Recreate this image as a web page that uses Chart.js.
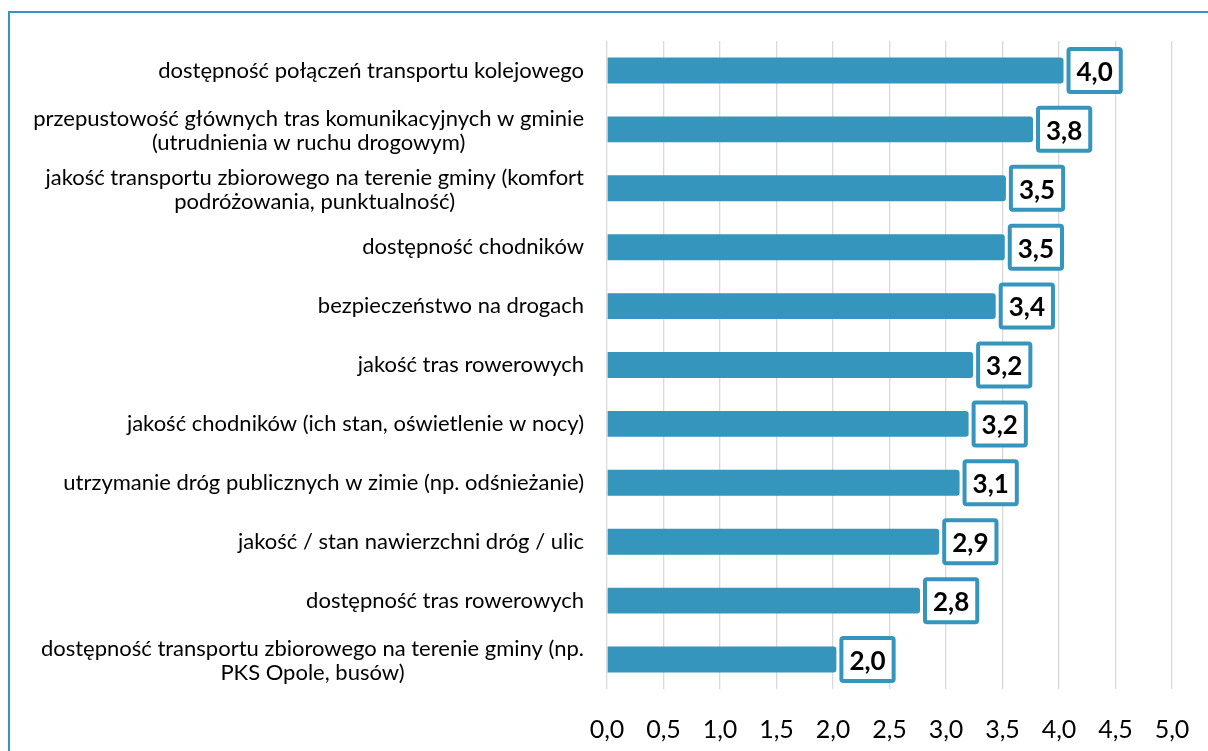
<!DOCTYPE html>
<html>
<head>
<meta charset="utf-8">
<script src="https://cdn.jsdelivr.net/npm/chart.js@4/dist/chart.umd.min.js"></script>
<style>
    body { margin: 0; background: #fff; overflow: hidden; }
    #ramka {
        position: absolute; left: 8px; top: 11px;
        width: 1400px; height: 1000px;
        border: 2px solid #3595bc;
    }
    #wykres { position: absolute; left: 0; top: 0; }
</style>
</head>
<body>
<div id="ramka"></div>
<canvas id="wykres" width="1208" height="751"></canvas>
<script>
// Dane z wykresu (ocena 1-5)
const kategorie = [
    ['dostępność połączeń transportu kolejowego'],
    ['przepustowość głównych tras komunikacyjnych w gminie', '(utrudnienia w ruchu drogowym)'],
    ['jakość transportu zbiorowego na terenie gminy (komfort', 'podróżowania, punktualność)'],
    ['dostępność chodników'],
    ['bezpieczeństwo na drogach'],
    ['jakość tras rowerowych'],
    ['jakość chodników (ich stan, oświetlenie w nocy)'],
    ['utrzymanie dróg publicznych w zimie (np. odśnieżanie)'],
    ['jakość / stan nawierzchni dróg / ulic'],
    ['dostępność tras rowerowych'],
    ['dostępność transportu zbiorowego na terenie gminy (np.', 'PKS Opole, busów)']
];
const oceny = [4.04, 3.77, 3.53, 3.52, 3.44, 3.24, 3.2, 3.12, 2.94, 2.77, 2.03];
const osX = { min: 0, max: 5, krok: 0.5 };

const NIEBIESKI = '#3595bc';
const CZCIONKA = 'Lato, sans-serif';

const formatuj = v => v.toFixed(1).replace('.', ',');

// Etykiety kategorii: blok wyrównany do prawej, linie wyśrodkowane
const etykietyKategorii = {
    id: 'etykietyKategorii',
    afterDraw(chart) {
        const ctx = chart.ctx;
        const y = chart.scales.y;
        const prawo = chart.chartArea.left - 23;
        const wysLinii = 24;
        ctx.save();
        ctx.font = '22px ' + CZCIONKA;
        ctx.fillStyle = '#000';
        ctx.textAlign = 'center';
        ctx.textBaseline = 'middle';
        kategorie.forEach((linie, i) => {
            const szer = Math.max(...linie.map(l => ctx.measureText(l).width));
            const srodekX = prawo - szer / 2;
            const srodekY = y.getPixelForTick(i) + (linie.length > 1 ? 1.5 : 0);
            linie.forEach((l, j) => {
                ctx.fillText(l, srodekX, srodekY + (j - (linie.length - 1) / 2) * wysLinii);
            });
        });
        ctx.restore();
    }
};

// Etykiety wartości w ramkach
const etykietyWartosci = {
    id: 'etykietyWartosci',
    afterDatasetsDraw(chart) {
        const ctx = chart.ctx;
        const meta = chart.getDatasetMeta(0);
        ctx.save();
        ctx.font = 'bold 26px ' + CZCIONKA;
        meta.data.forEach((bar, i) => {
            const tekst = formatuj(oceny[i]);
            const szer = ctx.measureText(tekst).width + 20;
            const wys = 47;
            const x0 = bar.x + 3;
            const y0 = bar.y - wys / 2;
            ctx.beginPath();
            ctx.roundRect(x0 + 2, y0 + 2, szer - 4, wys - 4, 2);
            ctx.fillStyle = '#fff';
            ctx.fill();
            ctx.lineWidth = 4;
            ctx.strokeStyle = NIEBIESKI;
            ctx.stroke();
            ctx.fillStyle = '#000';
            ctx.textAlign = 'center';
            ctx.textBaseline = 'middle';
            ctx.fillText(tekst, x0 + szer / 2, bar.y + 2);
        });
        ctx.restore();
    }
};

new Chart(document.getElementById('wykres'), {
    type: 'bar',
    data: {
        labels: kategorie,
        datasets: [{
            data: oceny,
            backgroundColor: NIEBIESKI,
            borderRadius: 3,
            borderSkipped: 'start',
            categoryPercentage: 1,
            barPercentage: 0.44
        }]
    },
    options: {
        indexAxis: 'y',
        responsive: false,
        animation: false,
        devicePixelRatio: 1,
        layout: {
            autoPadding: false,
            padding: { left: 599, right: 36, top: 41, bottom: 0 }
        },
        plugins: {
            legend: { display: false },
            tooltip: { enabled: false }
        },
        scales: {
            x: {
                min: osX.min,
                max: osX.max,
                grid: { color: '#d9d9d9', lineWidth: 1.3, drawTicks: false },
                border: { display: false },
                afterFit: skala => {
                    skala.height = 62;
                    skala.paddingLeft = 0;
                    skala.paddingRight = 0;
                },
                ticks: {
                    stepSize: osX.krok,
                    padding: 26,
                    color: '#000',
                    font: { family: CZCIONKA, size: 25 },
                    callback: v => formatuj(v)
                }
            },
            y: {
                grid: { display: false },
                border: { display: false },
                ticks: { display: false }
            }
        }
    },
    plugins: [etykietyKategorii, etykietyWartosci]
});
</script>
</body>
</html>
